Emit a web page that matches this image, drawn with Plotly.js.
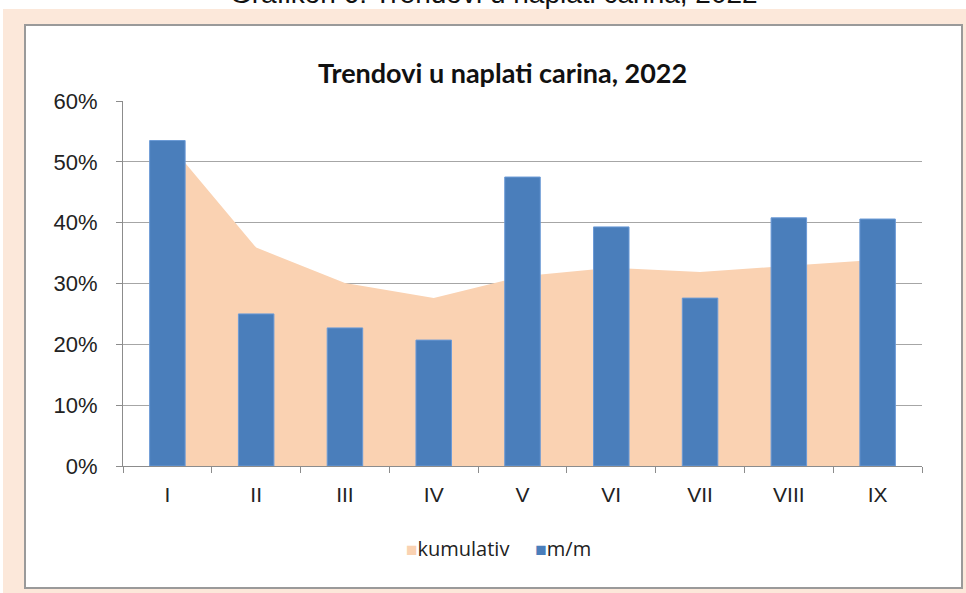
<!DOCTYPE html>
<html>
<head>
<meta charset="utf-8">
<script src="https://cdn.plot.ly/plotly-3.0.1.min.js"></script>
<style>html,body{margin:0;padding:0;background:#fff;}#chart{width:966px;height:593px;}</style>
</head>
<body>
<div id="chart"></div>
<script>
// ---- data ----
const months = ["I", "II", "III", "IV", "V", "VI", "VII", "VIII", "IX"];
const kumulativ = [0.533, 0.359, 0.301, 0.276, 0.312, 0.326, 0.319, 0.329, 0.339];
const mm = [0.535, 0.250, 0.227, 0.207, 0.475, 0.393, 0.276, 0.408, 0.406];
const seriesNames = ["kumulativ", "m/m"];
const chartTitle = "Trendovi u naplati carina, 2022";
const pageTitle = "Grafikon 6: Trendovi u naplati carina, 2022";

// ---- geometry helpers (pixel -> paper) ----
const L = 123, R = 922, T = 101, B = 466, W = 966, H = 593;
const px = x => (x - L) / (R - L);
const py = y => (B - y) / (B - T);

const traces = [
  {
    type: "scatter", mode: "none", x: months, y: kumulativ, name: seriesNames[0],
    fill: "tozeroy", fillcolor: "#fad2b2", line: {width: 0}, showlegend: false,
    hoverinfo: "x+y", xaxis: "x", yaxis: "y"
  },
  {
    type: "bar", x: months, y: mm, name: seriesNames[1], width: 0.4,
    marker: {color: "#4a7ebb", line: {color: "#6b9ad6", width: 1}}, showlegend: false,
    xaxis: "x2", yaxis: "y2"
  }
];

const axCommon = {fixedrange: true, zeroline: false};

const layout = {
  width: W, height: H,
  margin: {l: L, r: W - R, t: T, b: H - B, pad: 0},
  paper_bgcolor: "#ffffff",
  plot_bgcolor: "rgba(0,0,0,0)",
  font: {family: "Liberation Sans, Arial, sans-serif", color: "#222"},
  xaxis: Object.assign({
    type: "category", categoryarray: months, categoryorder: "array",
    showgrid: false, showline: true, linecolor: "#8c8c8c", linewidth: 1,
    ticks: "outside", tickson: "boundaries", ticklen: 6, tickcolor: "#8c8c8c",
    tickfont: {size: 21, color: "#222"}, ticklabelstandoff: 10
  }, axCommon),
  yaxis: Object.assign({
    range: [0, 0.6], dtick: 0.1, tickformat: ".0%", showgrid: true, gridcolor: "#a6a6a6", gridwidth: 1,
    showline: true, linecolor: "#8c8c8c", linewidth: 1, ticks: "outside", ticklen: 6, tickcolor: "#8c8c8c",
    tickfont: {size: 22, color: "#222"}, ticklabelstandoff: 14
  }, axCommon),
  xaxis2: Object.assign({
    type: "category", categoryarray: months, categoryorder: "array", overlaying: "x", matches: "x",
    visible: false, showgrid: false
  }, axCommon),
  yaxis2: Object.assign({
    range: [0, 0.6], overlaying: "y", visible: false, showgrid: false
  }, axCommon),
  shapes: [
    {type: "rect", xref: "paper", yref: "paper", layer: "below",
     x0: px(3), x1: px(980), y0: py(610), y1: py(9), fillcolor: "#fce8da", line: {width: 0}},
    {type: "rect", xref: "paper", yref: "paper", layer: "below",
     x0: px(25), x1: px(962), y0: py(588), y1: py(25), fillcolor: "#ffffff", line: {color: "#9a9a9a", width: 2}}
  ],
  annotations: [
    {text: pageTitle, xref: "paper", yref: "paper", x: px(494), y: py(11), xanchor: "center", yanchor: "bottom",
     showarrow: false, font: {size: 28, family: "Liberation Sans, Arial, sans-serif", color: "#111"}},
    {text: "<b>" + chartTitle + "</b>", xref: "paper", yref: "paper", x: px(502), y: py(72), xanchor: "center", yanchor: "middle",
     showarrow: false, font: {size: 27, family: "Lato, sans-serif", color: "#111"}},
    {text: '<span style="color:#fad2b2;font-size:19px">■</span>' + seriesNames[0] + '     <span style="color:#4a7ebb;font-size:19px">■</span>' + seriesNames[1],
     xref: "paper", yref: "paper", x: px(498), y: py(548), xanchor: "center", yanchor: "middle",
     showarrow: false, font: {size: 20, family: "Open Sans, sans-serif", color: "#222"}}
  ],
  showlegend: false,
  bargap: 0.6
};

Plotly.newPlot("chart", traces, layout, {displayModeBar: false, staticPlot: true});
</script>
</body>
</html>
